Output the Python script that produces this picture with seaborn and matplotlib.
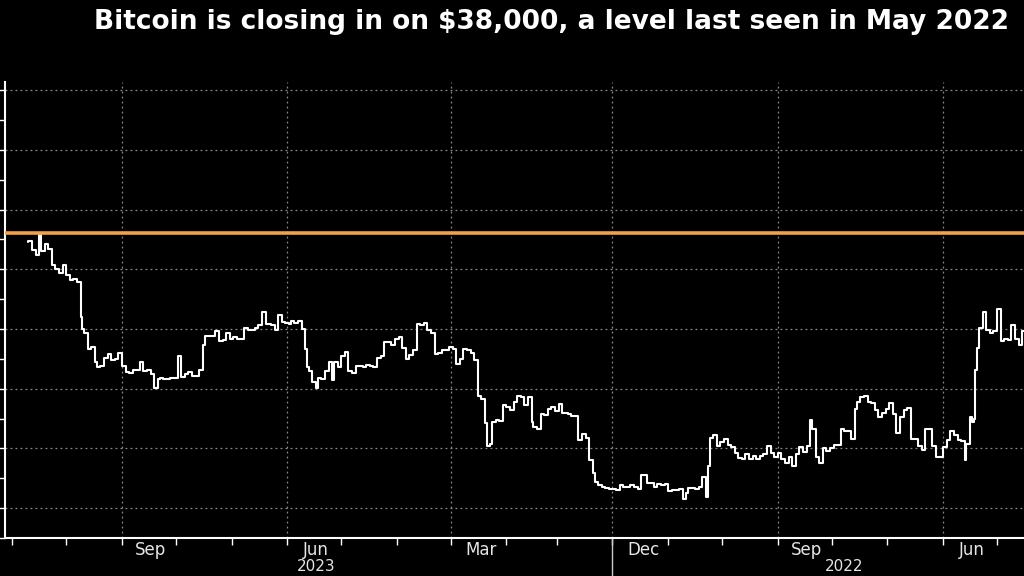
import matplotlib
matplotlib.use("Agg")
import matplotlib.pyplot as plt
import matplotlib.dates as mdates
import matplotlib.transforms as mtransforms
import seaborn as sns
import pandas as pd
import numpy as np

# ---------------- data ----------------
dates_2022 = ["05-10","05-12","05-14","05-16","05-18","05-20","05-22","05-24","05-26","05-28","05-30",
              "06-01","06-03","06-05","06-07","06-09","06-11","06-12","06-13","06-14","06-15","06-16","06-18",
              "06-19","06-21","06-23","06-25","06-27","06-29","07-01","07-03","07-05","07-07","07-09","07-11",
              "07-13","07-15","07-17","07-19","07-21","07-23","07-25","07-27","07-29","07-31","08-02","08-04",
              "08-06","08-08","08-10","08-12","08-14","08-16","08-18","08-19","08-21","08-23","08-25","08-27",
              "08-29","08-31","09-02","09-04","09-06","09-08","09-10","09-12","09-13","09-15","09-17","09-19",
              "09-21","09-23","09-25","09-27","09-29","10-01","10-03","10-05","10-07","10-09","10-11","10-13",
              "10-15","10-17","10-19","10-21","10-23","10-25","10-27","10-29","10-31","11-02","11-04","11-06",
              "11-08","11-09","11-10","11-12","11-14","11-16","11-18","11-20","11-21","11-23","11-25","11-27",
              "11-29","12-01","12-03","12-05","12-07","12-09","12-11","12-13","12-14","12-16","12-18","12-20",
              "12-22","12-24","12-26","12-28","12-30"]
prices_2022 = [31.0,28.9,30.1,29.8,28.7,29.2,30.3,29.1,29.2,29.0,31.7,
               29.8,29.7,29.9,31.4,30.1,28.4,26.6,22.5,22.2,22.6,20.4,19.0,
               20.6,20.7,21.1,21.5,20.7,20.1,19.3,19.3,20.2,21.6,21.6,19.9,
               20.2,20.8,20.8,23.4,23.2,22.6,21.3,22.9,23.8,23.3,23.0,22.6,
               23.2,23.8,23.9,24.4,24.3,23.9,23.3,20.8,21.5,21.5,21.6,20.3,
               20.3,20.0,19.8,20.0,18.8,19.3,21.6,22.4,20.2,19.7,20.1,19.5,
               18.5,19.3,18.8,19.1,19.6,19.3,19.6,20.2,19.5,19.4,19.1,19.4,
               19.1,19.5,19.1,19.2,19.6,20.1,20.3,20.8,20.5,20.2,21.1,20.9,
               18.5,15.9,17.6,16.8,16.6,16.7,16.7,16.3,15.8,16.6,16.5,16.5,
               16.4,17.0,16.9,17.0,16.8,17.1,17.1,17.8,17.8,16.6,16.8,16.9,
               16.8,16.8,16.9,16.5,16.6]

dates_2023 = ["01-01","01-03","01-05","01-07","01-09","01-11","01-12","01-14","01-16","01-18","01-20",
              "01-22","01-24","01-26","01-28","01-29","01-31","02-02","02-04","02-06","02-08","02-10",
              "02-12","02-14","02-15","02-17","02-19","02-21","02-23","02-25","02-27","03-01","03-03",
              "03-05","03-07","03-09","03-10","03-12","03-13","03-15","03-17","03-19","03-21","03-23",
              "03-25","03-27","03-29","03-31","04-02","04-04","04-06","04-08","04-10","04-12","04-14",
              "04-16","04-18","04-20","04-22","04-24","04-26","04-28","04-30","05-02","05-04","05-06",
              "05-08","05-10","05-12","05-14","05-16","05-18","05-20","05-22","05-24","05-26","05-28",
              "05-30","06-01","06-03","06-05","06-06","06-08","06-10","06-12","06-14","06-15","06-17",
              "06-19","06-20","06-21","06-23","06-25","06-27","06-29","06-30","07-02","07-04","07-06",
              "07-08","07-10","07-12","07-13","07-15","07-17","07-19","07-21","07-23","07-25","07-27",
              "07-29","07-31","08-02","08-04","08-06","08-08","08-10","08-12","08-14","08-16","08-17",
              "08-19","08-21","08-23","08-25","08-27","08-29","08-31","09-02","09-04","09-06","09-08",
              "09-10","09-11","09-13","09-15","09-17","09-19","09-21","09-23","09-25","09-27","09-29",
              "10-01","10-03","10-05","10-07","10-09","10-11","10-13","10-15","10-16","10-18","10-20",
              "10-22","10-23","10-24","10-26","10-28","10-30","11-01","11-03","11-05","11-07","11-09",
              "11-11","11-13","11-15","11-16","11-18","11-20","11-22"]
prices_2023 = [16.6,16.7,16.8,16.9,17.2,17.9,19.0,20.9,21.2,20.7,22.7,
               22.7,22.9,23.0,23.0,23.7,23.1,23.5,23.3,22.8,22.9,21.6,
               21.8,22.2,24.3,23.6,24.3,24.4,23.9,23.2,23.5,23.6,22.3,
               22.4,22.2,20.4,20.2,22.1,24.1,24.4,27.4,28.0,28.2,28.3,
               27.5,27.1,28.3,28.5,28.2,28.2,28.0,27.9,29.7,29.9,30.5,
               30.3,30.4,28.2,27.8,27.5,28.4,29.3,29.2,28.7,28.9,28.9,
               27.7,27.6,26.8,26.9,27.0,26.8,26.9,26.9,26.3,26.5,28.1,
               27.7,26.8,27.2,25.7,27.2,26.5,25.8,25.9,25.1,25.6,26.5,
               26.8,28.3,30.0,30.7,30.5,30.7,30.4,30.5,30.6,31.2,29.9,
               30.3,30.4,30.4,31.4,30.3,30.1,29.9,29.9,30.1,29.2,29.2,
               29.3,29.2,29.7,29.1,29.0,29.8,29.4,29.4,29.4,28.7,26.6,
               26.1,26.1,26.4,26.2,26.0,27.7,25.9,25.9,25.8,25.8,25.9,
               25.8,25.1,26.2,26.6,26.5,27.2,26.6,26.6,26.3,26.4,26.9,
               28.0,27.5,27.4,27.9,27.6,26.9,26.8,27.2,28.5,28.3,29.7,
               30.0,31.0,33.9,34.2,34.1,34.5,35.4,34.7,35.0,35.4,36.7,
               37.1,36.5,37.9,36.2,36.6,37.4,37.3]

threshold = 38000
title = "Bitcoin is closing in on $38,000, a level last seen in May 2022"
tick_months = ["2022-06-15", "2022-09-15", "2022-12-15", "2023-03-15", "2023-06-15", "2023-09-15"]
tick_labels = ["Jun", "Sep", "Dec", "Mar", "Jun", "Sep"]
quarter_lines = ["2022-07-01", "2022-10-01", "2023-01-01", "2023-04-01", "2023-07-01", "2023-10-01"]
year_labels = [("2022-08-25", "2022"), ("2023-06-15", "2023")]

df = pd.DataFrame({
    "date": pd.to_datetime(["2022-" + d for d in dates_2022] + ["2023-" + d for d in dates_2023]),
    "price": np.array(prices_2022 + prices_2023) * 1000,
})

# ---------------- style ----------------
sns.set_theme(style="dark")
plt.rcParams["font.family"] = ["DejaVu Sans"]

fig = plt.figure(figsize=(10.24, 5.76), dpi=100, facecolor="black")
ax = fig.add_axes([0.005, 0.066, 0.995, 0.792])
ax.set_facecolor("black")

sns.lineplot(data=df, x="date", y="price", ax=ax, color="white", lw=1.5,
             drawstyle="steps-post", estimator=None)
ax.axhline(threshold, color="#f2a04a", lw=2.6, zorder=5)

ax.set_xlim(pd.Timestamp("2023-12-05"), pd.Timestamp("2022-05-17"))
ax.set_ylim(12500, 50700)

# gridlines
for q in quarter_lines:
    ax.axvline(pd.Timestamp(q), color="#8a8a8a", lw=0.9, ls=(0, (1.5, 2.5)), zorder=1)
ax.yaxis.set_major_locator(matplotlib.ticker.MultipleLocator(5000))
ax.yaxis.set_minor_locator(matplotlib.ticker.MultipleLocator(2500))
ax.grid(False)
ax.grid(True, axis="y", which="major", color="#8a8a8a", lw=0.9, ls=(0, (1.5, 2.5)))
ax.tick_params(axis="y", which="both", left=True, labelleft=False, direction="out",
               length=5, color="white", width=1)

# x ticks: month boundaries as marks, labels mid-month
ax.xaxis.set_major_locator(mdates.MonthLocator())
ax.xaxis.set_major_formatter(matplotlib.ticker.NullFormatter())
ax.xaxis.set_minor_locator(matplotlib.ticker.FixedLocator(mdates.date2num(pd.to_datetime(tick_months))))
ax.xaxis.set_minor_formatter(matplotlib.ticker.FixedFormatter(tick_labels))
ax.tick_params(axis="x", which="major", bottom=True, direction="out", length=5, color="white", width=1)
ax.tick_params(axis="x", which="minor", bottom=True, length=0, labelsize=12, labelcolor="#e6e6e6", pad=2)
ax.set_xlabel("")
ax.set_ylabel("")

for s in ["top", "right"]:
    ax.spines[s].set_visible(False)
for s in ["left", "bottom"]:
    ax.spines[s].set_visible(True)
    ax.spines[s].set_color("white")
    ax.spines[s].set_linewidth(1.5)

# year separator below the axis
trans = mtransforms.blended_transform_factory(ax.transData, ax.transAxes)
ax.plot([pd.Timestamp("2023-01-01")] * 2, [0, -0.09], transform=trans, color="#cccccc",
        lw=1, clip_on=False)

tr_fig = mtransforms.blended_transform_factory(ax.transData, fig.transFigure)
for d, lab in year_labels:
    ax.text(pd.Timestamp(d), 0.003, lab, transform=tr_fig, ha="center", va="bottom",
            fontsize=11, color="#e6e6e6", clip_on=False)

fig.text(0.985, 0.985, title, ha="right", va="top", fontsize=19, fontweight="bold",
         color="white", family=["Liberation Sans Narrow", "DejaVu Sans"])

fig.savefig("out.png", dpi=100, facecolor="black")
